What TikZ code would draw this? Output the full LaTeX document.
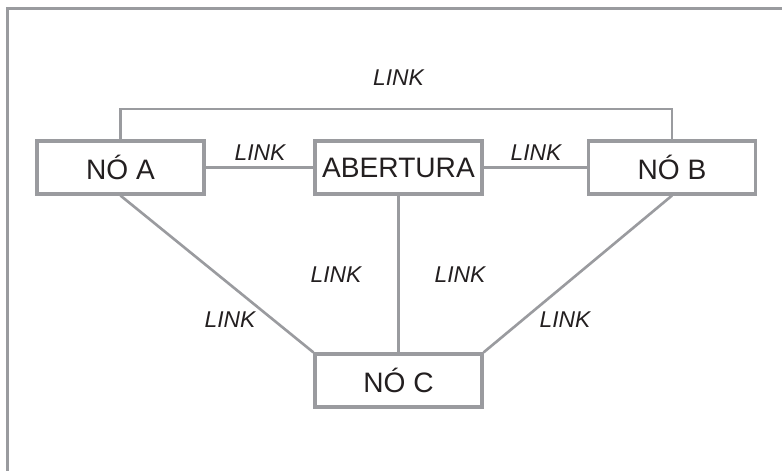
\documentclass[tikz,border=0pt]{standalone}
\usepackage{fontspec}
\setmainfont{Liberation Sans}
\usetikzlibrary{positioning}

\definecolor{linha}{HTML}{9A9B9F}
\definecolor{texto}{HTML}{231F20}

\begin{document}
\begin{tikzpicture}[line width=1.5pt,
  nobox/.style={draw=linha, line width=1.8pt, fill=white, text=texto,
    minimum width=3.34cm, minimum height=1.06cm, inner sep=0pt,
    font=\fontsize{16}{19}\selectfont},
  linklabel/.style={text=texto, font=\fontsize{13}{15}\selectfont\itshape}]

\useasboundingbox (0,0) rectangle (15.64,9.42);

% moldura
\draw[linha, line width=1.8pt] (0.15,0)--(0.15,9.25)--(15.64,9.25);

\node[nobox] (noA) at (2.41,6.07) {NÓ A};
\node[nobox] (abertura) at (7.97,6.07) {ABERTURA};
\node[nobox] (noB) at (13.44,6.07) {NÓ B};
\node[nobox] (noC) at (7.97,1.81) {NÓ C};

\coordinate (topo) at (7.97,7.24);

\draw[linha] (noA.north) |- (topo) -| (noB.north);
\draw[linha] (noA) -- (abertura);
\draw[linha] (abertura) -- (noB);
\draw[linha] (abertura) -- (noC);
\draw[linha] (noA.south) -- (noC.north west);
\draw[linha] (noB.south) -- (noC.north east);

\node[linklabel] (l1) at (7.97,7.86) {LINK};
\node[linklabel] (l2) at (5.2,6.36) {LINK};
\node[linklabel] (l3) at (10.72,6.36) {LINK};
\node[linklabel] (l4) at (6.72,3.92) {LINK};
\node[linklabel] (l5) at (9.2,3.92) {LINK};
\node[linklabel] (l6) at (4.6,3.02) {LINK};
\node[linklabel] (l7) at (11.3,3.02) {LINK};

\end{tikzpicture}
\end{document}
